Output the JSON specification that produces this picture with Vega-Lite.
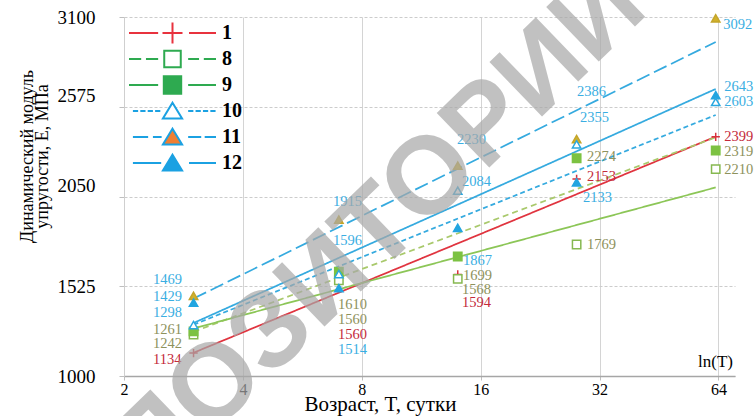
{
  "$schema": "https://vega.github.io/schema/vega-lite/v6.json",
  "width": 611,
  "height": 359,
  "autosize": {"type": "none"},
  "padding": {"left": 124, "top": 17, "right": 20, "bottom": 40},
  "background": "white",
  "config": {"view": {"stroke": null}, "font": "Liberation Serif"},
  "datasets": {
    "points": [
      {"series": "1", "T": 3, "E": 1134}, {"series": "1", "T": 7, "E": 1560}, {"series": "1", "T": 14, "E": 1594}, {"series": "1", "T": 28, "E": 2153}, {"series": "1", "T": 63, "E": 2399},
      {"series": "8", "T": 3, "E": 1242}, {"series": "8", "T": 7, "E": 1560}, {"series": "8", "T": 14, "E": 1568}, {"series": "8", "T": 28, "E": 1769}, {"series": "8", "T": 63, "E": 2210},
      {"series": "9", "T": 3, "E": 1261}, {"series": "9", "T": 7, "E": 1610}, {"series": "9", "T": 14, "E": 1699}, {"series": "9", "T": 28, "E": 2274}, {"series": "9", "T": 63, "E": 2319},
      {"series": "11", "T": 3, "E": 1469}, {"series": "11", "T": 7, "E": 1915}, {"series": "11", "T": 14, "E": 2230}, {"series": "11", "T": 28, "E": 2386}, {"series": "11", "T": 63, "E": 3092},
      {"series": "12", "T": 3, "E": 1429}, {"series": "12", "T": 7, "E": 1514}, {"series": "12", "T": 14, "E": 1867}, {"series": "12", "T": 28, "E": 2133}, {"series": "12", "T": 63, "E": 2643},
      {"series": "10", "T": 3, "E": 1298}, {"series": "10", "T": 7, "E": 1596}, {"series": "10", "T": 14, "E": 2084}, {"series": "10", "T": 28, "E": 2355}, {"series": "10", "T": 63, "E": 2603}
    ],
    "trends": [
      {"series": "1", "T": 3, "E": 1136}, {"series": "1", "T": 63, "E": 2400},
      {"series": "8", "T": 3, "E": 1259}, {"series": "8", "T": 63, "E": 2396},
      {"series": "9", "T": 3, "E": 1278}, {"series": "9", "T": 63, "E": 2103},
      {"series": "10", "T": 3, "E": 1300}, {"series": "10", "T": 63, "E": 2527},
      {"series": "11", "T": 3, "E": 1453}, {"series": "11", "T": 63, "E": 2954},
      {"series": "12", "T": 3, "E": 1310}, {"series": "12", "T": 63, "E": 2679}
    ],
    "labels": [
      {"series": "11", "text": "1469", "T": 2.37, "E": 1562},
      {"series": "12", "text": "1429", "T": 2.37, "E": 1464},
      {"series": "10", "text": "1298", "T": 2.37, "E": 1369},
      {"series": "9", "text": "1261", "T": 2.37, "E": 1269},
      {"series": "8", "text": "1242", "T": 2.37, "E": 1190},
      {"series": "1", "text": "1134", "T": 2.37, "E": 1094},
      {"series": "11", "text": "1915", "T": 6.76, "E": 2018},
      {"series": "10", "text": "1596", "T": 6.76, "E": 1790},
      {"series": "9", "text": "1610", "T": 6.96, "E": 1415},
      {"series": "8", "text": "1560", "T": 6.96, "E": 1328},
      {"series": "1", "text": "1560", "T": 6.96, "E": 1240},
      {"series": "12", "text": "1514", "T": 6.96, "E": 1152},
      {"series": "11", "text": "2230", "T": 13.94, "E": 2381},
      {"series": "10", "text": "2084", "T": 14.35, "E": 2135},
      {"series": "12", "text": "1867", "T": 14.43, "E": 1673},
      {"series": "9", "text": "1699", "T": 14.43, "E": 1585},
      {"series": "8", "text": "1568", "T": 14.35, "E": 1503},
      {"series": "1", "text": "1594", "T": 14.35, "E": 1425},
      {"series": "11", "text": "2386", "T": 28.05, "E": 2661},
      {"series": "10", "text": "2355", "T": 28.54, "E": 2509},
      {"series": "9", "text": "2274", "T": 29.73, "E": 2281},
      {"series": "1", "text": "2153", "T": 29.73, "E": 2164},
      {"series": "12", "text": "2133", "T": 29.05, "E": 2041},
      {"series": "8", "text": "1769", "T": 29.73, "E": 1766},
      {"series": "11", "text": "3092", "T": 65.8, "E": 3053},
      {"series": "12", "text": "2643", "T": 66.2, "E": 2691},
      {"series": "10", "text": "2603", "T": 66.2, "E": 2603},
      {"series": "1", "text": "2399", "T": 66.2, "E": 2398},
      {"series": "9", "text": "2319", "T": 66.2, "E": 2310},
      {"series": "8", "text": "2210", "T": 66.2, "E": 2205}
    ],
    "notes": [{"text": "ln(T)", "T": 69.7, "E": 1053}],
    "watermark": [{"text": "РЕПОЗИТОРИЙ", "T": 6.46, "E": 1562}],
    "legendItems": [{"series": "1"}, {"series": "8"}, {"series": "9"}, {"series": "10"}, {"series": "11"}, {"series": "12"}]
  },
  "encoding": {
    "x": {
      "field": "T", "type": "quantitative",
      "scale": {"type": "log", "base": 2, "domain": [2, 70.5], "nice": false},
      "axis": {
        "values": [2, 4, 8, 16, 32, 64], "format": "d", "labelFlush": false, "labelOverlap": false,
        "title": "Возраст, T, сутки", "titleX": 256, "titleY": 34, "titleBaseline": "alphabetic", "titleAlign": "center",
        "titleFont": "Liberation Serif", "titleFontSize": 21, "titleFontWeight": "normal", "titleColor": "black",
        "labelFont": "Liberation Serif", "labelFontSize": 16, "labelColor": "black", "labelPadding": 1,
        "ticks": true, "tickSize": 4, "tickColor": "#bfbfbf", "domainColor": "#a6a6a6", "domainWidth": 1.5,
        "grid": true, "gridColor": "#d4d4d4"
      }
    },
    "y": {
      "field": "E", "type": "quantitative",
      "scale": {"domain": [1000, 3100], "nice": false, "zero": false},
      "axis": {
        "values": [1000, 1525, 2050, 2575, 3100], "format": "d", "labelOverlap": false,
        "title": ["Динамический модуль", "упругости, E, МПа"], "titleX": -92, "titleY": 139, "titleAngle": 270,
        "titleBaseline": "alphabetic", "titleAlign": "center", "titleLineHeight": 15,
        "titleFont": "Liberation Serif", "titleFontSize": 18, "titleFontWeight": "normal", "titleColor": "black",
        "labelFont": "Liberation Serif", "labelFontSize": 19, "labelColor": "black", "labelPadding": 24,
        "labelOffset": {"condition": {"test": "datum.value === 2575 || datum.value === 2050", "value": -11}, "value": 0},
        "ticks": true, "tickSize": 5, "tickColor": "#bfbfbf", "domainColor": "#cfcfcf",
        "grid": true, "gridColor": "#cccccc", "gridDash": [3, 2]
      }
    }
  },
  "layer": [
    {
      "data": {"name": "trends"},
      "mark": {"type": "line", "strokeWidth": 1.75},
      "encoding": {
        "stroke": {"field": "series", "type": "nominal", "legend": null,
          "scale": {"domain": ["1", "8", "9", "10", "11", "12"], "range": ["#E0343F", "#A9C96C", "#8CC657", "#35AADF", "#35AADF", "#35AADF"]}},
        "strokeDash": {"field": "series", "type": "nominal", "legend": null,
          "scale": {"domain": ["1", "8", "9", "10", "11", "12"], "range": [[1, 0], [6, 4], [1, 0], [5, 3], [14, 5], [1, 0]]}}
      }
    },
    {
      "data": {"name": "points"},
      "mark": {"type": "point", "filled": true, "size": 70, "strokeWidth": 1.5, "opacity": 1},
      "encoding": {
        "shape": {"field": "series", "type": "nominal", "legend": null,
          "scale": {"domain": ["1", "8", "9", "10", "11", "12"], "range": ["M-1,0H1M0,-1V1", "square", "square", "triangle-up", "triangle-up", "triangle-up"]}},
        "fill": {"field": "series", "type": "nominal", "legend": null,
          "scale": {"domain": ["1", "8", "9", "10", "11", "12"], "range": ["transparent", "white", "#7CC242", "white", "#D1B12B", "#22A5E0"]}},
        "stroke": {"field": "series", "type": "nominal", "legend": null,
          "scale": {"domain": ["1", "8", "9", "10", "11", "12"], "range": ["#D8303C", "#86B850", "#7CC242", "#2AA8E0", "#C4A52A", "#22A5E0"]}}
      }
    },
    {
      "data": {"name": "labels"},
      "mark": {"type": "text", "align": "left", "baseline": "middle", "fontSize": 14.5, "font": "Liberation Serif"},
      "encoding": {
        "text": {"field": "text", "type": "nominal"},
        "color": {"field": "series", "type": "nominal", "legend": null,
          "scale": {"domain": ["1", "8", "9", "10", "11", "12"], "range": ["#C42A3A", "#8E925C", "#8E925C", "#3AAEE2", "#3AAEE2", "#3AAEE2"]}}
      }
    },
    {
      "data": {"name": "notes"},
      "mark": {"type": "text", "align": "right", "baseline": "alphabetic", "fontSize": 17, "font": "Liberation Serif", "color": "black"},
      "encoding": {"text": {"field": "text", "type": "nominal"}}
    },
    {
      "data": {"name": "legendItems"},
      "transform": [{"filter": "datum.series === 'none'"}],
      "mark": {"type": "point", "filled": true, "opacity": 1},
      "encoding": {
        "shape": {"field": "series", "type": "nominal",
          "scale": {"domain": ["1", "8", "9", "10", "11", "12"], "range": [
            "M-1,0H-0.33M0.38,0H1M-0.23,0H0.23M0,-0.24V0.24",
            "M-1,0H-0.72M-0.61,0H-0.33M0.36,0H0.61M0.72,0H1M-0.19,-0.19H0.19V0.19H-0.19Z",
            "M-1,0H-0.33M0.36,0H1M-0.2,-0.2H0.2V0.2H-0.2Z",
            "M-0.91,0H-0.79M-0.74,0H-0.62M-0.57,0H-0.45M-0.4,0H-0.28M0.36,0H0.48M0.53,0H0.65M0.7,0H0.82M0.87,0H0.99M0,-0.19L0.22,0.17H-0.22Z",
            "M-0.91,0H-0.56M-0.45,0H-0.25M0.36,0H0.66M0.74,0H1M0,-0.19L0.22,0.17H-0.22Z",
            "M-0.91,0H-0.26M0.38,0H1M0,-0.19L0.22,0.17H-0.22Z"
          ]},
          "legend": {"title": null, "orient": "none", "legendX": 4, "legendY": 3, "padding": 0, "rowPadding": 0, "clipHeight": 26,
            "symbolSize": 7569, "symbolStrokeWidth": 2, "symbolOpacity": 1,
            "labelFont": "Liberation Serif", "labelFontSize": 20, "labelFontWeight": "bold", "labelColor": "black", "labelOffset": 5, "labelLimit": 60}},
        "fill": {"field": "series", "type": "nominal",
          "scale": {"domain": ["1", "8", "9", "10", "11", "12"], "range": ["transparent", "white", "#2EAA50", "white", "#F07F33", "#1BA1E2"]},
          "legend": {"title": null, "orient": "none", "legendX": 4, "legendY": 3, "padding": 0, "rowPadding": 0, "clipHeight": 26,
            "symbolSize": 7569, "symbolStrokeWidth": 2, "symbolOpacity": 1,
            "labelFont": "Liberation Serif", "labelFontSize": 20, "labelFontWeight": "bold", "labelColor": "black", "labelOffset": 5, "labelLimit": 60}},
        "stroke": {"field": "series", "type": "nominal",
          "scale": {"domain": ["1", "8", "9", "10", "11", "12"], "range": ["#E8323E", "#2EAA50", "#2EAA50", "#1BA1E2", "#1BA1E2", "#1BA1E2"]},
          "legend": {"title": null, "orient": "none", "legendX": 4, "legendY": 3, "padding": 0, "rowPadding": 0, "clipHeight": 26,
            "symbolSize": 7569, "symbolStrokeWidth": 2, "symbolOpacity": 1,
            "labelFont": "Liberation Serif", "labelFontSize": 20, "labelFontWeight": "bold", "labelColor": "black", "labelOffset": 5, "labelLimit": 60}}
      }
    },
    {
      "data": {"name": "watermark"},
      "mark": {"type": "text", "align": "center", "baseline": "middle", "angle": -44, "fontSize": 110, "fontWeight": "bold", "font": "Liberation Sans", "color": "#a8a8a8", "opacity": 0.7},
      "encoding": {"text": {"field": "text", "type": "nominal"}}
    }
  ],
  "resolve": {"scale": {"shape": "independent", "fill": "independent", "stroke": "independent", "color": "independent", "strokeDash": "independent"}}
}
